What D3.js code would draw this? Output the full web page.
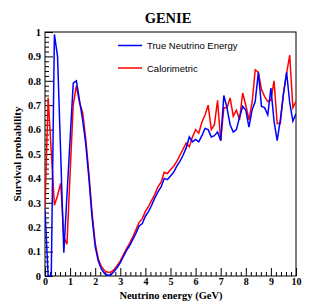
<!DOCTYPE html>
<html><head><meta charset="utf-8">
<script src="https://cdn.jsdelivr.net/npm/d3@7/dist/d3.min.js"></script>
<style>body{margin:0;background:#fff}svg{display:block}</style>
</head><body>
<script>
const energies = [0,0.125,0.25,0.375,0.5,0.625,0.75,0.875,1,1.125,1.25,1.375,1.5,1.625,1.75,1.875,2,2.125,2.25,2.375,2.5,2.625,2.75,2.875,3,3.125,3.25,3.375,3.5,3.625,3.75,3.875,4,4.125,4.25,4.375,4.5,4.625,4.75,4.875,5,5.125,5.25,5.375,5.5,5.625,5.75,5.875,6,6.125,6.25,6.375,6.5,6.625,6.75,6.875,7,7.125,7.25,7.375,7.5,7.625,7.75,7.875,8,8.125,8.25,8.375,8.5,8.625,8.75,8.875,9,9.125,9.25,9.375,9.5,9.625,9.75,9.875,10];
const trueEnergy = [0.27,0.0,0.0,0.99,0.90,0.50,0.095,0.33,0.56,0.79,0.80,0.72,0.64,0.54,0.40,0.24,0.12,0.06,0.028,0.01,0.003,0.005,0.018,0.035,0.055,0.08,0.105,0.125,0.15,0.175,0.205,0.215,0.245,0.265,0.29,0.32,0.345,0.365,0.40,0.395,0.41,0.425,0.45,0.47,0.495,0.525,0.57,0.55,0.56,0.55,0.575,0.605,0.60,0.57,0.575,0.59,0.555,0.74,0.69,0.62,0.59,0.60,0.65,0.695,0.68,0.61,0.68,0.715,0.835,0.695,0.69,0.66,0.77,0.635,0.555,0.64,0.745,0.835,0.71,0.635,0.665];
const calorimetric = [0.28,0.73,0.51,0.29,0.33,0.38,0.16,0.13,0.42,0.70,0.78,0.71,0.67,0.56,0.42,0.26,0.135,0.07,0.038,0.022,0.015,0.016,0.026,0.042,0.062,0.088,0.112,0.135,0.16,0.19,0.22,0.235,0.265,0.285,0.31,0.335,0.365,0.385,0.425,0.42,0.435,0.45,0.47,0.495,0.52,0.545,0.53,0.57,0.60,0.585,0.63,0.66,0.70,0.60,0.62,0.72,0.555,0.69,0.69,0.73,0.655,0.68,0.64,0.75,0.70,0.64,0.71,0.845,0.835,0.765,0.735,0.715,0.72,0.80,0.625,0.625,0.75,0.83,0.905,0.69,0.715];
const xMajor = [0,1,2,3,4,5,6,7,8,9,10];
const xLabels = ["0","1","2","3","4","5","6","7","8","9","10"];
const yMajor = [0,0.1,0.2,0.3,0.4,0.5,0.6,0.7,0.8,0.9,1];
const yLabels = ["0","0.1","0.2","0.3","0.4","0.5","0.6","0.7","0.8","0.9","1"];
const seriesNames = ["True Neutrino Energy","Calorimetric"];
const seriesColors = ["#0000ff","#ff0000"];

const W=315,H=307;
const svg=d3.select("body").append("svg").attr("width",W).attr("height",H);
const x=d3.scaleLinear().domain([0,10]).range([45,296]);
const y=d3.scaleLinear().domain([0,1]).range([276,32]);
const serif='"Liberation Serif","Times New Roman",serif';
const sans='"Liberation Sans",Arial,sans-serif';

const xMinor=d3.range(0,10.001,0.2).filter(v=>Math.abs(v-Math.round(v))>1e-6);
const yMinor=d3.range(0,1.0001,0.02).filter(v=>Math.abs(v*10-Math.round(v*10))>1e-6);

function styleAxis(g){g.select(".domain").remove();g.selectAll("line").attr("stroke","#000").attr("stroke-width",1);}

svg.append("g").attr("transform","translate(0,276)")
  .call(d3.axisBottom(x).tickValues(xMinor).tickSize(-4).tickFormat(""))
  .call(styleAxis);
svg.append("g").attr("transform","translate(0,276)")
  .call(d3.axisBottom(x).tickValues(xMajor).tickSize(-8).tickPadding(1.5).tickFormat((d,i)=>xLabels[i]))
  .call(styleAxis)
  .call(g=>g.selectAll("text").attr("font-family",serif).attr("font-weight","bold").attr("font-size",10).attr("fill","#000"));
svg.append("g").attr("transform","translate(45,0)")
  .call(d3.axisLeft(y).tickValues(yMinor).tickSize(-4).tickFormat(""))
  .call(styleAxis);
svg.append("g").attr("transform","translate(45,0)")
  .call(d3.axisLeft(y).tickValues(yMajor).tickSize(-8).tickPadding(4).tickFormat((d,i)=>yLabels[i]))
  .call(styleAxis)
  .call(g=>g.selectAll("text").attr("font-family",serif).attr("font-weight","bold").attr("font-size",10.5).attr("fill","#000"));

svg.append("rect").attr("x",45).attr("y",32).attr("width",251).attr("height",244)
  .attr("fill","none").attr("stroke","#000").attr("stroke-width",1);

svg.append("clipPath").attr("id","c").append("rect").attr("x",45).attr("y",31).attr("width",251).attr("height",245.5);
const line=d3.line().x((d,i)=>x(energies[i])).y(d=>y(d));
[calorimetric,trueEnergy].forEach((s,k)=>{
  svg.append("path").datum(s).attr("d",line).attr("fill","none")
    .attr("stroke",seriesColors[1-k]).attr("stroke-width",1.5).attr("clip-path","url(#c)");
});

const lg=[{y:45.5},{y:68}];
seriesNames.forEach((n,i)=>{
  svg.append("line").attr("x1",118).attr("x2",142).attr("y1",lg[i].y).attr("y2",lg[i].y)
    .attr("stroke",seriesColors[i]).attr("stroke-width",1.5);
  svg.append("text").attr("x",147).attr("y",lg[i].y+3.5).text(n)
    .attr("font-family",sans).attr("font-size",9.5).attr("fill","#000");
});

svg.append("text").attr("x",168).attr("y",23).attr("text-anchor","middle").text("GENIE")
  .attr("font-family",serif).attr("font-weight","bold").attr("font-size",14.5);
svg.append("text").attr("x",171).attr("y",298.5).attr("text-anchor","middle").text("Neutrino energy (GeV)")
  .attr("font-family",serif).attr("font-weight","bold").attr("font-size",10.5);
svg.append("text").attr("transform","translate(21,154) rotate(-90)").attr("text-anchor","middle").text("Survival probability")
  .attr("font-family",serif).attr("font-weight","bold").attr("font-size",11);
</script>
</body></html>
